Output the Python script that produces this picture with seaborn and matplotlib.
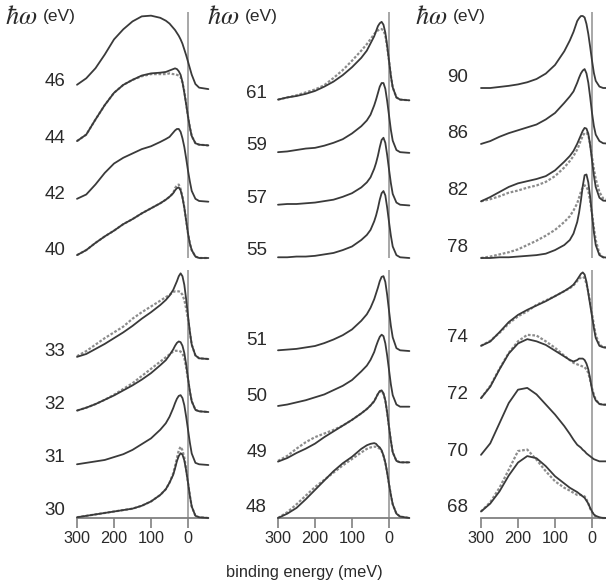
import numpy as np
import matplotlib
matplotlib.use("Agg")
import matplotlib.pyplot as plt
import seaborn as sns

# binding energy grid (meV) shared by every spectrum, finer around the Fermi edge
energy = [300, 275, 250, 225, 200, 175, 150, 125, 100, 75, 60, 50, 40, 35, 30,
          25, 20, 15, 10, 5, 0, -5, -10, -20, -30, -55]

# photon energies (eV) per block, listed top to bottom
labels_a_top = ["46", "44", "42", "40"]
labels_a_bot = ["33", "32", "31", "30"]
labels_b_top = ["61", "59", "57", "55"]
labels_b_bot = ["51", "50", "49", "48"]
labels_c_top = ["90", "86", "82", "78"]
labels_c_bot = ["74", "72", "70", "68"]

# fitted spectra (normalised intensity)
fit_a_top = {
    "46": [0.06, 0.15, 0.29, 0.48, 0.69, 0.83, 0.94, 1.01, 1.02, 0.99, 0.95, 0.91, 0.85, 0.82, 0.78, 0.74, 0.69, 0.63, 0.55, 0.47, 0.38, 0.29, 0.20, 0.07, 0.02, 0.0],
    "44": [0.06, 0.15, 0.36, 0.56, 0.73, 0.84, 0.91, 0.97, 1.00, 1.01, 1.02, 1.04, 1.06, 1.07, 1.06, 1.03, 0.98, 0.88, 0.73, 0.57, 0.40, 0.25, 0.13, 0.03, 0.01, 0.0],
    "42": [0.04, 0.10, 0.24, 0.40, 0.53, 0.61, 0.67, 0.73, 0.77, 0.83, 0.87, 0.90, 0.96, 0.99, 1.01, 1.01, 0.97, 0.88, 0.76, 0.60, 0.43, 0.28, 0.15, 0.04, 0.01, 0.0],
    "40": [0.04, 0.11, 0.21, 0.30, 0.38, 0.47, 0.54, 0.62, 0.69, 0.76, 0.81, 0.85, 0.90, 0.94, 0.97, 0.98, 0.94, 0.84, 0.70, 0.52, 0.34, 0.20, 0.11, 0.02, 0.0, 0.0],
}
fit_a_bot = {
    "33": [0.03, 0.07, 0.14, 0.21, 0.29, 0.37, 0.46, 0.56, 0.65, 0.75, 0.82, 0.88, 0.96, 1.02, 1.08, 1.15, 1.19, 1.15, 1.03, 0.83, 0.60, 0.38, 0.20, 0.05, 0.01, 0.0],
    "32": [0.02, 0.06, 0.11, 0.17, 0.23, 0.30, 0.37, 0.45, 0.54, 0.65, 0.72, 0.79, 0.87, 0.92, 0.96, 0.98, 0.97, 0.92, 0.82, 0.66, 0.47, 0.29, 0.15, 0.03, 0.01, 0.0],
    "31": [0.01, 0.03, 0.05, 0.07, 0.11, 0.15, 0.21, 0.29, 0.37, 0.49, 0.58, 0.67, 0.79, 0.86, 0.92, 0.96, 0.97, 0.93, 0.83, 0.67, 0.49, 0.31, 0.16, 0.03, 0.01, 0.0],
    "30": [0.01, 0.03, 0.05, 0.07, 0.09, 0.11, 0.13, 0.17, 0.23, 0.32, 0.40, 0.49, 0.60, 0.69, 0.79, 0.86, 0.90, 0.88, 0.80, 0.66, 0.49, 0.31, 0.16, 0.03, 0.01, 0.0],
}
fit_b_top = {
    "61": [0.01, 0.04, 0.06, 0.09, 0.13, 0.19, 0.26, 0.35, 0.46, 0.59, 0.69, 0.79, 0.89, 0.96, 1.03, 1.07, 1.09, 1.05, 0.94, 0.76, 0.55, 0.34, 0.18, 0.04, 0.01, 0.0],
    "59": [0.01, 0.02, 0.04, 0.06, 0.07, 0.10, 0.14, 0.19, 0.27, 0.37, 0.45, 0.53, 0.66, 0.74, 0.83, 0.92, 0.97, 0.97, 0.89, 0.72, 0.52, 0.32, 0.17, 0.04, 0.01, 0.0],
    "57": [0.01, 0.02, 0.02, 0.03, 0.04, 0.06, 0.08, 0.12, 0.17, 0.25, 0.32, 0.39, 0.51, 0.59, 0.69, 0.81, 0.91, 0.94, 0.87, 0.70, 0.50, 0.31, 0.16, 0.04, 0.01, 0.0],
    "55": [0.01, 0.01, 0.02, 0.02, 0.03, 0.05, 0.07, 0.11, 0.16, 0.25, 0.32, 0.39, 0.51, 0.59, 0.69, 0.81, 0.90, 0.93, 0.87, 0.70, 0.50, 0.31, 0.16, 0.04, 0.01, 0.0],
}
fit_b_bot = {
    "51": [0.01, 0.02, 0.03, 0.05, 0.07, 0.11, 0.16, 0.22, 0.30, 0.42, 0.51, 0.60, 0.72, 0.80, 0.88, 0.97, 1.03, 1.04, 0.96, 0.78, 0.56, 0.35, 0.19, 0.04, 0.01, 0.0],
    "50": [0.01, 0.03, 0.06, 0.09, 0.13, 0.17, 0.23, 0.29, 0.37, 0.49, 0.57, 0.65, 0.76, 0.84, 0.91, 0.97, 1.00, 0.98, 0.88, 0.71, 0.51, 0.31, 0.16, 0.03, 0.0, 0.0],
    "49": [0.01, 0.06, 0.13, 0.19, 0.26, 0.35, 0.43, 0.51, 0.59, 0.68, 0.74, 0.79, 0.85, 0.90, 0.95, 0.99, 1.00, 0.96, 0.86, 0.69, 0.49, 0.30, 0.14, 0.02, 0.0, 0.0],
    "48": [0.0, 0.06, 0.14, 0.26, 0.39, 0.52, 0.65, 0.76, 0.85, 0.96, 1.01, 1.03, 1.04, 1.03, 1.00, 0.98, 0.94, 0.87, 0.77, 0.63, 0.47, 0.32, 0.19, 0.06, 0.02, 0.0],
}
fit_c_top = {
    "90": [0.0, 0.0, 0.015, 0.03, 0.05, 0.08, 0.125, 0.20, 0.32, 0.51, 0.66, 0.78, 0.93, 0.97, 1.00, 1.00, 0.98, 0.89, 0.75, 0.57, 0.38, 0.21, 0.10, 0.02, 0.0, 0.0],
    "86": [0.01, 0.05, 0.11, 0.16, 0.20, 0.24, 0.28, 0.35, 0.44, 0.58, 0.67, 0.74, 0.86, 0.93, 0.99, 1.03, 1.05, 0.99, 0.86, 0.66, 0.44, 0.26, 0.14, 0.05, 0.02, 0.01],
    "82": [0.0, 0.06, 0.13, 0.20, 0.25, 0.28, 0.31, 0.35, 0.43, 0.55, 0.63, 0.70, 0.80, 0.86, 0.92, 0.98, 1.02, 1.01, 0.94, 0.78, 0.57, 0.36, 0.20, 0.05, 0.01, 0.0],
    "78": [0.0, 0.0, 0.01, 0.01, 0.02, 0.03, 0.04, 0.06, 0.11, 0.18, 0.25, 0.34, 0.50, 0.63, 0.80, 1.00, 1.15, 1.16, 1.05, 0.85, 0.60, 0.36, 0.18, 0.04, 0.01, 0.0],
}
fit_c_bot = {
    "74": [0.03, 0.09, 0.22, 0.36, 0.46, 0.53, 0.59, 0.65, 0.72, 0.79, 0.84, 0.88, 0.95, 0.99, 1.03, 1.05, 1.02, 0.92, 0.76, 0.60, 0.44, 0.28, 0.14, 0.03, 0.01, 0.0],
    "72": [0.09, 0.25, 0.49, 0.71, 0.85, 0.91, 0.88, 0.83, 0.75, 0.67, 0.62, 0.60, 0.62, 0.64, 0.64, 0.64, 0.62, 0.57, 0.49, 0.36, 0.21, 0.12, 0.06, 0.01, 0.0, 0.0],
    "70": [0.09, 0.25, 0.53, 0.81, 0.995, 1.02, 0.93, 0.79, 0.65, 0.49, 0.38, 0.30, 0.23, 0.21, 0.19, 0.16, 0.14, 0.11, 0.09, 0.07, 0.05, 0.03, 0.02, 0.0, 0.0, 0.0],
    "68": [0.09, 0.20, 0.37, 0.59, 0.77, 0.86, 0.83, 0.72, 0.58, 0.48, 0.42, 0.39, 0.36, 0.34, 0.32, 0.30, 0.28, 0.24, 0.20, 0.14, 0.09, 0.05, 0.03, 0.01, 0.0, 0.0],
}

# measured spectra where they depart visibly from the fit
meas_a_top = {
    "44": [0.06, 0.15, 0.36, 0.56, 0.73, 0.84, 0.91, 0.96, 0.99, 0.99, 0.99, 1.00, 0.99, 0.99, 0.98, 0.97, 0.95, 0.87, 0.75, 0.58, 0.40, 0.25, 0.13, 0.03, 0.01, 0.0],
    "40": [0.04, 0.11, 0.21, 0.30, 0.38, 0.47, 0.54, 0.62, 0.69, 0.76, 0.81, 0.85, 0.90, 0.97, 1.01, 1.02, 0.96, 0.85, 0.70, 0.52, 0.34, 0.20, 0.11, 0.02, 0.0, 0.0],
}
meas_a_bot = {
    "33": [0.04, 0.11, 0.20, 0.29, 0.37, 0.45, 0.56, 0.65, 0.73, 0.81, 0.86, 0.89, 0.93, 0.94, 0.94, 0.94, 0.93, 0.89, 0.82, 0.70, 0.55, 0.37, 0.20, 0.05, 0.01, 0.0],
    "32": [0.02, 0.06, 0.11, 0.17, 0.24, 0.32, 0.40, 0.50, 0.60, 0.70, 0.76, 0.80, 0.84, 0.85, 0.85, 0.85, 0.84, 0.81, 0.75, 0.62, 0.45, 0.28, 0.15, 0.03, 0.01, 0.0],
    "30": [0.01, 0.03, 0.05, 0.07, 0.09, 0.11, 0.13, 0.17, 0.23, 0.32, 0.40, 0.49, 0.62, 0.72, 0.83, 0.94, 0.99, 0.94, 0.84, 0.68, 0.49, 0.31, 0.16, 0.03, 0.01, 0.0],
}
meas_b_top = {
    "61": [0.01, 0.04, 0.07, 0.11, 0.15, 0.21, 0.31, 0.42, 0.55, 0.69, 0.78, 0.85, 0.92, 0.95, 0.97, 0.99, 0.99, 0.97, 0.90, 0.74, 0.55, 0.34, 0.18, 0.04, 0.01, 0.0],
}
meas_b_bot = {
    "49": [0.02, 0.09, 0.19, 0.28, 0.35, 0.40, 0.45, 0.51, 0.59, 0.68, 0.74, 0.79, 0.85, 0.90, 0.95, 0.98, 0.99, 0.95, 0.86, 0.69, 0.49, 0.30, 0.14, 0.02, 0.0, 0.0],
    "48": [0.0, 0.08, 0.19, 0.31, 0.43, 0.53, 0.63, 0.73, 0.82, 0.91, 0.96, 0.98, 0.99, 0.99, 0.98, 0.96, 0.93, 0.86, 0.77, 0.63, 0.47, 0.32, 0.19, 0.06, 0.02, 0.0],
}
meas_c_top = {
    "82": [0.0, 0.03, 0.07, 0.12, 0.15, 0.19, 0.22, 0.27, 0.35, 0.47, 0.56, 0.63, 0.72, 0.78, 0.85, 0.91, 0.95, 0.95, 0.92, 0.79, 0.62, 0.45, 0.31, 0.13, 0.04, 0.0],
    "78": [0.0, 0.02, 0.05, 0.08, 0.12, 0.18, 0.24, 0.31, 0.39, 0.50, 0.58, 0.66, 0.76, 0.84, 0.92, 0.98, 1.01, 0.99, 0.93, 0.79, 0.62, 0.42, 0.25, 0.06, 0.01, 0.0],
}
meas_c_bot = {
    "74": [0.03, 0.10, 0.21, 0.34, 0.44, 0.51, 0.60, 0.66, 0.72, 0.79, 0.83, 0.87, 0.93, 0.96, 0.98, 0.99, 0.97, 0.89, 0.78, 0.64, 0.48, 0.32, 0.18, 0.05, 0.01, 0.0],
    "72": [0.09, 0.26, 0.50, 0.72, 0.88, 0.97, 0.96, 0.88, 0.79, 0.68, 0.62, 0.58, 0.56, 0.55, 0.54, 0.53, 0.52, 0.49, 0.44, 0.34, 0.23, 0.14, 0.07, 0.01, 0.0, 0.0],
    "68": [0.09, 0.22, 0.42, 0.67, 0.93, 0.95, 0.81, 0.65, 0.51, 0.42, 0.38, 0.35, 0.32, 0.32, 0.32, 0.31, 0.30, 0.26, 0.20, 0.13, 0.08, 0.04, 0.02, 0.0, 0.0, 0.0],
}

x_ticks = [300, 200, 100, 0]

sns.set_style("ticks")
plt.rcParams["font.family"] = ["Liberation Sans", "DejaVu Sans"]
plt.rcParams["mathtext.fontset"] = "stix"

FIT_COLOR = "#3a3a3a"
MEAS_COLOR = "#8c8c8c"
ZERO_COLOR = "#a0a0a0"
AXIS_COLOR = "#808080"
TEXT_COLOR = "#2a2a2a"

fig = plt.figure(figsize=(6.06, 5.86), dpi=100)

col_left = [77 / 606, 278 / 606, 481 / 606]
col_width = 131 / 606
row_bottom = [(586 - 258) / 586, (586 - 518) / 586]
row_height = [246 / 586, 248 / 586]
row_top = [246 / 72, 248 / 72]

blocks = [
    # labels, fits, measured, col, row, spacing, label dy, label x
    (labels_a_top, fit_a_top, meas_a_top, 0, 0, 0.782, 0.10, 331),
    (labels_a_bot, fit_a_bot, meas_a_bot, 0, 1, 0.736, 0.10, 331),
    (labels_b_top, fit_b_top, meas_b_top, 1, 0, 0.730, 0.10, 330),
    (labels_b_bot, fit_b_bot, meas_b_bot, 1, 1, 0.773, 0.14, 330),
    (labels_c_top, fit_c_top, meas_c_top, 2, 0, 0.787, 0.15, 335),
    (labels_c_bot, fit_c_bot, meas_c_bot, 2, 1, 0.787, 0.14, 335),
]

for labels, fits, meas, col, row, spacing, dy, lx in blocks:
    ax = fig.add_axes([col_left[col], row_bottom[row], col_width, row_height[row]])
    ax.axvline(0, color=ZERO_COLOR, lw=1.3, zorder=0)
    n = len(labels)
    for i, lab in enumerate(labels):
        offset = (n - 1 - i) * spacing
        if lab in meas:
            sns.lineplot(x=energy, y=np.array(meas[lab]) + offset, ax=ax,
                         color=MEAS_COLOR, lw=1.6, linestyle=(0, (1.2, 0.8)),
                         estimator=None, sort=False, clip_on=False, zorder=2)
        sns.lineplot(x=energy, y=np.array(fits[lab]) + offset, ax=ax,
                     color=FIT_COLOR, lw=1.3, estimator=None, sort=False,
                     clip_on=False, zorder=3)
        ax.text(lx, offset + dy, lab, ha="right", va="center", fontsize=13.5,
                color=TEXT_COLOR, clip_on=False)
    ax.set_xlim(300, -54)
    ax.set_ylim(0, row_top[row])
    ax.set_yticks([])
    ax.set_xlabel("")
    ax.set_ylabel("")
    for side in ["top", "right", "left"]:
        ax.spines[side].set_visible(False)
    if row == 1:
        ax.spines["bottom"].set_color(AXIS_COLOR)
        ax.spines["bottom"].set_linewidth(1.3)
        ax.set_xticks(x_ticks)
        ax.set_xticklabels([str(t) for t in x_ticks])
        ax.tick_params(axis="x", direction="out", length=7.5, width=1.2,
                       color=AXIS_COLOR, labelsize=11.7, labelcolor=TEXT_COLOR, pad=2)
    else:
        ax.spines["bottom"].set_visible(False)
        ax.set_xticks([])

# column headings
for hx in [5, 207, 415]:
    fig.text(hx / 606, 1 - 17 / 586, r"$\hbar\omega$", fontsize=19, ha="left",
             va="center", color=TEXT_COLOR)
    fig.text((hx + 38) / 606, 1 - 17 / 586, "(eV)", fontsize=12.5, ha="left",
             va="center", color=TEXT_COLOR)

fig.text(304 / 606, 1 - 573 / 586, "binding energy (meV)", fontsize=11.8,
         ha="center", va="center", color=TEXT_COLOR)

fig.savefig("out.png", dpi=100)
